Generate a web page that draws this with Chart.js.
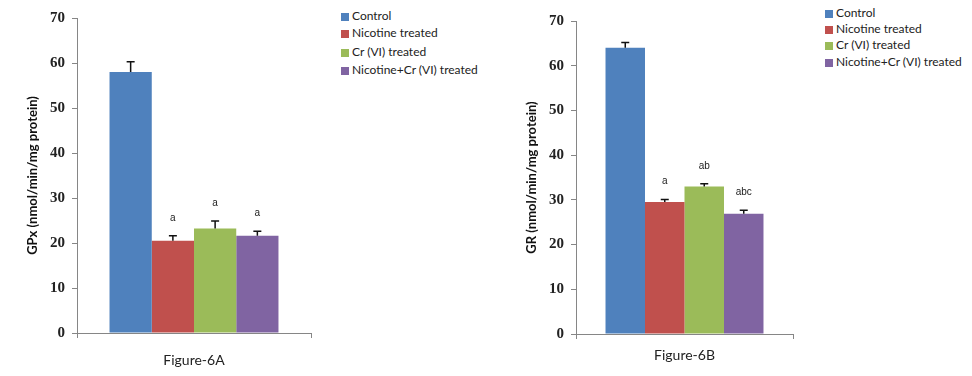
<!DOCTYPE html>
<html>
<head>
<meta charset="utf-8">
<script src="https://cdn.jsdelivr.net/npm/chart.js@4.4.0/dist/chart.umd.min.js"></script>
<style>
  body { margin: 0; background: #fff; }
  #wrap { position: relative; width: 972px; height: 376px; overflow: hidden; background: #fff; }
  canvas { position: absolute; top: 0; }
  .legend { position: absolute; font: 12px Lato, sans-serif; color: #222; }
  .legend div { position: absolute; left: 0; white-space: nowrap; line-height: 12px; }
  .legend i { display: inline-block; width: 8px; height: 8px; margin-right: 3px; vertical-align: -1px; }
</style>
</head>
<body>
<div id="wrap">
  <canvas id="chartA" width="330" height="376" style="left:0"></canvas>
  <canvas id="chartB" width="320" height="376" style="left:500px"></canvas>
  <div class="legend" id="legA" style="left:341px;top:0"></div>
  <div class="legend" id="legB" style="left:825px;top:0"></div>
</div>
<script>
const groups = ["Control", "Nicotine treated", "Cr (VI) treated", "Nicotine+Cr (VI) treated"];
const colors = ["#4F81BD", "#C0504D", "#9BBB59", "#8064A2"];

const gpxMeans = [58.0, 20.5, 23.2, 21.6];
const gpxErr = [2.3, 1.1, 1.7, 1.0];
const gpxMarks = ["", "a", "a", "a"];

const grMeans = [64.0, 29.5, 33.0, 26.9];
const grErr = [1.2, 0.6, 0.6, 0.8];
const grMarks = ["", "a", "ab", "abc"];

const yTicks = [0, 10, 20, 30, 40, 50, 60, 70];

// error bars (upper half only) + significance letters
const errorBars = {
  id: "errorBars",
  afterDatasetsDraw(chart) {
    const ctx = chart.ctx;
    const y = chart.scales.y;
    chart.data.datasets.forEach((ds, i) => {
      const bar = chart.getDatasetMeta(i).data[0];
      const top = y.getPixelForValue(ds.data[0] + ds.err);
      ctx.save();
      ctx.strokeStyle = "#111";
      ctx.lineWidth = 1.5;
      ctx.beginPath();
      ctx.moveTo(bar.x, bar.y);
      ctx.lineTo(bar.x, top);
      ctx.moveTo(bar.x - 4, top);
      ctx.lineTo(bar.x + 4, top);
      ctx.stroke();
      if (ds.mark) {
        ctx.fillStyle = "#222";
        ctx.font = '10px "Liberation Sans", Arial, sans-serif';
        ctx.textAlign = "center";
        ctx.textBaseline = "middle";
        ctx.fillText(ds.mark, bar.x, top - 18);
      }
      ctx.restore();
    });
  }
};

function makeChart(id, means, errs, marks, yTitle, xTitle, g) {
  const datasets = groups.map((name, i) => ({
    label: name,
    data: [means[i]],
    err: errs[i],
    mark: marks[i],
    backgroundColor: colors[i],
    borderWidth: 0,
    categoryPercentage: g.catPct,
    barPercentage: 1
  }));

  return new Chart(document.getElementById(id), {
    type: "bar",
    data: { labels: [""], datasets: datasets },
    options: {
      responsive: false,
      animation: false,
      layout: { padding: { top: g.top, right: g.right, bottom: 0, left: 0 } },
      plugins: { legend: { display: false }, tooltip: { enabled: false } },
      scales: {
        x: {
          ticks: { display: false },
          grid: { offset: true, drawOnChartArea: false, tickLength: 5, color: "#868686" },
          border: { color: "#868686" },
          title: {
            display: true, text: xTitle, color: "#222",
            font: { family: "Lato", size: 14 },
            padding: { top: 0, bottom: g.titleBottom }
          },
          afterFit: s => { s.height = g.xHeight; }
        },
        y: {
          min: 0, max: 70,
          afterBuildTicks: s => { s.ticks = yTicks.map(v => ({ value: v })); },
          ticks: {
            color: "#222", padding: 7,
            font: { family: "Liberation Serif", size: 15, weight: "bold" }
          },
          grid: { drawOnChartArea: false, tickLength: 5, color: "#868686" },
          border: { color: "#868686" },
          title: {
            display: true, text: yTitle, color: "#111",
            font: { family: "Lato", size: 13, weight: "bold" },
            padding: { top: g.titleLeft, bottom: 0 }
          },
          afterFit: s => { s.width = g.yWidth; }
        }
      }
    },
    plugins: [errorBars]
  });
}

function makeLegend(id, rowTops) {
  const box = document.getElementById(id);
  groups.forEach((name, i) => {
    const row = document.createElement("div");
    row.style.top = rowTops[i] + "px";
    row.innerHTML = '<i style="background:' + colors[i] + '"></i>' + name;
    box.appendChild(row);
  });
}

makeChart("chartA", gpxMeans, gpxErr, gpxMarks, "GPx (nmol/min/mg protein)", "Figure-6A",
  { top: 18, right: 19, yWidth: 77, xHeight: 43, catPct: 0.722, titleBottom: 7, titleLeft: 25 });
makeChart("chartB", grMeans, grErr, grMarks, "GR (nmol/min/mg protein)", "Figure-6B",
  { top: 21, right: 27, yWidth: 76, xHeight: 42, catPct: 0.728, titleBottom: 12, titleLeft: 24 });

makeLegend("legA", [10, 27, 46, 64]);
makeLegend("legB", [7, 23, 39, 56]);
</script>
</body>
</html>
